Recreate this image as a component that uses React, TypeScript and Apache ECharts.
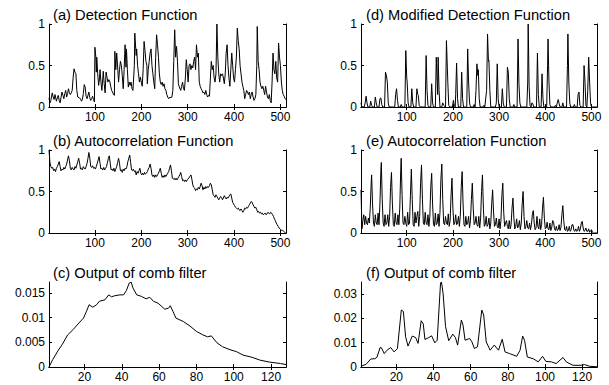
import React, { useEffect, useRef } from "react";
import * as echarts from "echarts";

const titles = [
  "(a) Detection Function",
  "(b) Autocorrelation Function",
  "(c) Output of comb filter",
  "(d) Modified Detection Function",
  "(e) Autocorrelation Function",
  "(f) Output of comb filter",
];

const lagTicks = [100, 200, 300, 400, 500];
const combTicks = [20, 40, 60, 80, 100, 120];
const unitTicks = [0, 0.5, 1];
const combTicksC = [0, 0.005, 0.01, 0.015];
const combTicksF = [0, 0.01, 0.02, 0.03];

const detectionFn: [number, number][] = [
  [1,0.11],[3,0.05],[5,0.08],[8,0.17],[10,0.12],[12,0.09],[14,0.15],[17,0.07],[19,0.11],[21,0.14],[23,0.08],[25,0.05],[27,0.12],[29,0.18],[31,0.14],[33,0.1],[35,0.16],[37,0.2],[39,0.12],[41,0.16],[43,0.22],[45,0.17],[47,0.15],[49,0.17],[51,0.2],[53,0.35],[55,0.46],[57,0.42],[59,0.4],[61,0.2],[63,0.12],[66,0.11],[69,0.1],[71,0.07],[73,0.09],[75,0.16],[77,0.27],[79,0.24],[81,0.13],[83,0.1],[85,0.14],[87,0.18],[89,0.11],[91,0.08],[93,0.1],[95,0.13],[97,0.09],[99,0.06],[100,0.72],[102,0.6],[103,0.42],[104,0.6],[106,0.4],[108,0.26],[110,0.35],[111,0.45],[113,0.3],[115,0.2],[117,0.35],[118,0.43],[120,0.28],[122,0.17],[124,0.42],[126,0.36],[128,0.3],[130,0.33],[132,0.31],[134,0.25],[136,0.2],[138,0.18],[140,0.15],[142,0.14],[143,0.67],[145,0.45],[147,0.65],[149,0.48],[151,0.3],[153,0.45],[155,0.55],[157,0.5],[159,0.38],[161,0.22],[163,0.45],[165,0.75],[167,0.48],[168,0.7],[170,0.45],[172,0.24],[174,0.3],[176,0.26],[178,0.3],[180,0.22],[182,0.2],[185,0.5],[186,0.89],[188,0.7],[189,0.62],[190,0.7],[192,0.5],[194,0.4],[196,0.3],[198,0.36],[200,0.3],[202,0.25],[204,0.45],[206,0.79],[208,0.68],[210,0.55],[212,0.5],[213,0.28],[215,0.45],[217,0.55],[219,0.65],[221,0.7],[223,0.5],[225,0.4],[227,0.3],[229,0.22],[231,0.6],[233,0.87],[235,0.75],[237,0.6],[239,0.4],[241,0.3],[243,0.27],[245,0.3],[247,0.25],[249,0.28],[251,0.22],[253,0.2],[255,0.15],[257,0.12],[259,0.1],[262,0.12],[264,0.11],[266,0.12],[268,0.2],[270,0.55],[272,0.93],[274,0.6],[276,0.73],[278,0.55],[280,0.28],[282,0.24],[285,0.2],[287,0.25],[289,0.3],[291,0.22],[293,0.2],[295,0.35],[297,0.57],[299,0.45],[301,0.3],[303,0.5],[305,0.52],[307,0.45],[309,0.5],[311,0.47],[313,0.55],[315,0.6],[317,0.45],[319,0.75],[321,0.6],[323,0.65],[325,0.3],[327,0.25],[329,0.22],[331,0.2],[333,0.17],[335,0.18],[337,0.15],[339,0.2],[341,0.15],[343,0.12],[345,0.14],[347,0.13],[349,0.35],[351,0.55],[353,0.45],[355,0.5],[357,0.35],[359,0.3],[361,0.4],[363,1.0],[365,0.6],[367,0.4],[369,0.3],[371,0.4],[373,0.38],[375,0.4],[377,0.35],[379,0.28],[381,0.4],[383,0.65],[385,0.75],[387,0.5],[389,0.35],[391,0.25],[393,0.45],[395,0.65],[397,0.5],[399,0.35],[401,0.3],[403,0.45],[405,0.6],[407,0.95],[409,0.8],[411,0.7],[413,0.5],[415,0.4],[417,0.3],[419,0.25],[421,0.2],[423,0.1],[425,0.15],[427,0.2],[429,0.18],[431,0.15],[433,0.18],[435,0.1],[437,0.15],[439,0.18],[441,0.12],[443,0.08],[445,0.1],[447,0.15],[449,0.5],[450,0.97],[452,0.55],[454,0.45],[456,0.3],[458,0.25],[460,0.22],[462,0.25],[464,0.2],[466,0.15],[468,0.25],[470,0.18],[472,0.12],[474,0.1],[476,0.15],[478,0.08],[480,0.05],[482,0.3],[484,0.65],[486,0.45],[488,0.4],[490,0.55],[492,0.35],[494,0.3],[496,0.77],[498,0.6],[500,0.5],[502,0.3],[504,0.2],[506,0.15],[508,0.13],[510,0.1],[512,0.09],
];

const autocorr: [number, number][] = [
  [1,1.0],[3,0.85],[5,0.8],[7,0.78],[9,0.79],[11,0.75],[13,0.77],[15,0.74],[17,0.78],[19,0.8],[21,0.83],[23,0.86],[25,0.8],[27,0.75],[29,0.77],[31,0.76],[33,0.79],[35,0.77],[37,0.8],[39,0.83],[41,0.88],[43,0.93],[45,0.87],[47,0.78],[49,0.76],[51,0.79],[53,0.77],[55,0.76],[57,0.8],[59,0.78],[61,0.82],[63,0.86],[65,0.9],[67,0.84],[69,0.77],[71,0.78],[73,0.76],[75,0.8],[77,0.78],[79,0.77],[81,0.8],[83,0.84],[85,0.9],[87,0.97],[89,0.9],[91,0.8],[93,0.79],[95,0.81],[97,0.78],[99,0.79],[101,0.77],[103,0.8],[105,0.84],[107,0.88],[109,0.92],[111,0.84],[113,0.77],[115,0.78],[117,0.76],[119,0.79],[121,0.76],[123,0.78],[125,0.8],[127,0.85],[129,0.9],[131,0.93],[133,0.84],[135,0.76],[137,0.77],[139,0.75],[141,0.78],[143,0.74],[145,0.77],[147,0.8],[149,0.85],[151,0.9],[153,0.84],[155,0.75],[157,0.76],[159,0.73],[161,0.77],[163,0.75],[165,0.78],[167,0.77],[169,0.8],[171,0.86],[173,0.9],[175,0.94],[177,0.85],[179,0.76],[181,0.75],[183,0.77],[185,0.74],[187,0.75],[189,0.7],[191,0.74],[193,0.72],[195,0.75],[197,0.78],[199,0.72],[201,0.7],[203,0.72],[205,0.7],[207,0.73],[209,0.71],[211,0.72],[213,0.74],[215,0.77],[217,0.79],[219,0.83],[221,0.78],[223,0.7],[225,0.68],[227,0.7],[229,0.67],[231,0.7],[233,0.68],[235,0.7],[237,0.72],[239,0.75],[241,0.78],[243,0.72],[245,0.67],[247,0.69],[249,0.67],[251,0.7],[253,0.68],[255,0.7],[257,0.72],[259,0.74],[261,0.78],[263,0.82],[265,0.75],[267,0.66],[269,0.65],[271,0.66],[273,0.64],[275,0.66],[277,0.64],[279,0.66],[281,0.68],[283,0.7],[285,0.73],[287,0.68],[289,0.63],[291,0.64],[293,0.62],[295,0.64],[297,0.62],[299,0.64],[301,0.65],[303,0.67],[305,0.68],[307,0.7],[309,0.65],[311,0.58],[313,0.55],[315,0.54],[317,0.51],[319,0.53],[321,0.52],[323,0.55],[325,0.53],[327,0.56],[329,0.6],[331,0.57],[333,0.52],[335,0.55],[337,0.53],[339,0.56],[341,0.54],[343,0.56],[345,0.55],[347,0.57],[349,0.6],[351,0.58],[353,0.52],[355,0.46],[357,0.45],[359,0.43],[361,0.46],[363,0.44],[365,0.42],[367,0.4],[369,0.42],[371,0.44],[373,0.43],[375,0.4],[377,0.42],[379,0.45],[381,0.43],[383,0.41],[385,0.43],[387,0.42],[389,0.44],[391,0.46],[393,0.47],[395,0.42],[397,0.37],[399,0.35],[401,0.33],[403,0.31],[405,0.3],[407,0.29],[409,0.3],[411,0.28],[413,0.27],[415,0.29],[417,0.27],[419,0.25],[421,0.27],[423,0.3],[425,0.29],[427,0.31],[429,0.3],[431,0.32],[433,0.34],[435,0.36],[437,0.38],[439,0.37],[441,0.34],[443,0.32],[445,0.3],[447,0.31],[449,0.28],[451,0.25],[453,0.26],[455,0.24],[457,0.25],[459,0.23],[461,0.24],[463,0.22],[465,0.23],[467,0.24],[469,0.22],[471,0.23],[473,0.25],[475,0.24],[477,0.23],[479,0.25],[481,0.24],[483,0.22],[485,0.2],[487,0.17],[489,0.15],[491,0.12],[493,0.1],[495,0.08],[497,0.06],[499,0.05],[501,0.04],[503,0.03],[505,0.03],[507,0.02],[509,0.01],[511,0.005],[512,0.0],
];

const combOut: [number, number][] = [
  [1,0],[3,0.0015],[6,0.0034],[8,0.0045],[11,0.0065],[14,0.0076],[17,0.0089],[19.5,0.0099],[21,0.0112],[22.5,0.0126],[24.5,0.0121],[26.5,0.0126],[28,0.0133],[31,0.0136],[33,0.0146],[34.5,0.0142],[36,0.0144],[39,0.0146],[41,0.0146],[42.5,0.0155],[44,0.017],[45,0.0172],[46,0.016],[48,0.0146],[50.5,0.0143],[53,0.0138],[55,0.0141],[57,0.0133],[59.5,0.0129],[63,0.0117],[65,0.0119],[66,0.0124],[67.5,0.0112],[69,0.0099],[73,0.0092],[76.5,0.0083],[80,0.0072],[83.5,0.0065],[86,0.0061],[88,0.0063],[91,0.0049],[94,0.0041],[98,0.0035],[101.5,0.0031],[105,0.0024],[109.5,0.002],[114,0.0014],[119,0.001],[125,0.0007],[128,0.0005],
];

const modDetectionFn: [number, number][] = [
  [1,0.05],[2,0.02],[4,0],[8,0],[10,0.05],[12,0.13],[14,0.05],[16,0],[20,0],[22,0.07],[24,0.02],[26,0],[30,0],[32,0.12],[34,0.05],[36,0],[40,0],[42,0.1],[44,0.11],[46,0.03],[48,0],[52,0],[54,0.42],[56,0.38],[58,0.3],[60,0.05],[62,0],[74,0],[76,0.15],[78,0.22],[80,0.08],[82,0],[86,0],[88,0.03],[90,0],[96,0],[98,0.68],[100,0.35],[101,0.3],[103,0.05],[105,0],[109,0],[111,0.22],[113,0.05],[115,0],[120,0],[122,0.22],[124,0.15],[125,0.14],[127,0.02],[129,0],[140,0],[142,0.62],[144,0.2],[146,0.02],[148,0],[152,0],[154,0.28],[156,0.05],[158,0],[162,0],[164,0.6],[166,0.3],[167,0.15],[168,0.6],[170,0.2],[172,0],[176,0],[178,0.05],[180,0.02],[184,0],[186,0.8],[188,0.46],[189,0.3],[191,0.02],[193,0],[199,0],[201,0.08],[203,0.02],[205,0],[206,0.15],[208,0.53],[210,0.1],[212,0],[217,0],[219,0.42],[221,0.1],[223,0],[230,0],[232,0.7],[234,0.3],[236,0.05],[238,0],[244,0],[246,0.03],[248,0],[250,0.2],[252,0.52],[254,0.38],[255,0.45],[257,0.1],[259,0],[265,0],[267,0.02],[269,0],[273,0.2],[275,0.88],[277,0.55],[278,0.56],[280,0.2],[282,0],[292,0],[294,0.05],[296,0.52],[298,0.1],[300,0],[305,0],[307,0.22],[309,0.05],[311,0],[316,0],[318,0.48],[320,0.42],[322,0.1],[324,0],[330,0],[332,0.03],[334,0],[339,0],[341,0.82],[343,0.28],[345,0.05],[347,0],[360,0],[362,0.3],[363,1.0],[365,0.25],[367,0.02],[369,0],[371,0.05],[373,0.04],[375,0],[381,0],[383,0.65],[385,0.15],[387,0],[391,0],[393,0.4],[395,0.1],[397,0],[403,0],[405,0.5],[406,0.82],[408,0.3],[410,0.03],[412,0],[420,0],[422,0.02],[424,0],[426,0.05],[428,0.09],[430,0.04],[432,0],[436,0],[438,0.05],[440,0],[446,0],[448,0.5],[449,0.88],[451,0.3],[453,0.05],[455,0],[461,0],[463,0.03],[465,0],[469,0],[471,0.15],[473,0.18],[475,0.02],[477,0],[482,0],[484,0.5],[486,0.3],[488,0.02],[490,0],[492,0.2],[494,0.6],[496,0.3],[498,0.05],[500,0],[512,0],
];

const modAutocorr: [number, number][] = [
  [1,0.52],[3,0.05],[5,0.15],[7,0.22],[9,0.1],[11,0.2],[13,0.12],[15,0.1],[17,0.18],[19,0.12],[21,0.3],[23,0.6],[24,0.7],[26,0.35],[28,0.12],[30,0.08],[32,0.22],[34,0.12],[36,0.1],[38,0.24],[40,0.1],[42,0.35],[44,0.75],[45,0.85],[47,0.4],[49,0.12],[51,0.08],[53,0.22],[55,0.1],[57,0.12],[59,0.22],[61,0.08],[63,0.2],[65,0.55],[67,0.73],[69,0.35],[71,0.1],[73,0.08],[75,0.24],[77,0.12],[79,0.1],[81,0.22],[83,0.1],[85,0.3],[87,0.75],[88,0.9],[90,0.45],[92,0.12],[94,0.1],[96,0.2],[98,0.12],[100,0.08],[102,0.25],[104,0.1],[106,0.12],[108,0.45],[110,0.77],[112,0.4],[114,0.1],[116,0.08],[118,0.25],[120,0.12],[122,0.2],[124,0.26],[126,0.08],[128,0.2],[130,0.6],[132,0.82],[134,0.4],[136,0.12],[138,0.1],[140,0.25],[142,0.12],[144,0.1],[146,0.22],[148,0.08],[150,0.2],[152,0.55],[154,0.72],[156,0.35],[158,0.1],[160,0.08],[162,0.24],[164,0.1],[166,0.12],[168,0.23],[170,0.08],[172,0.25],[174,0.65],[176,0.83],[178,0.4],[180,0.12],[182,0.1],[184,0.2],[186,0.12],[188,0.1],[190,0.23],[192,0.08],[194,0.15],[196,0.45],[198,0.66],[200,0.3],[202,0.1],[204,0.12],[206,0.22],[208,0.1],[210,0.12],[212,0.2],[214,0.08],[216,0.2],[218,0.55],[220,0.74],[222,0.35],[224,0.1],[226,0.08],[228,0.2],[230,0.1],[232,0.12],[234,0.2],[236,0.06],[238,0.15],[240,0.4],[242,0.6],[244,0.3],[246,0.1],[248,0.12],[250,0.2],[252,0.1],[254,0.08],[256,0.2],[258,0.06],[260,0.18],[262,0.5],[264,0.7],[266,0.3],[268,0.08],[270,0.1],[272,0.2],[274,0.08],[276,0.1],[278,0.18],[280,0.05],[282,0.12],[284,0.35],[286,0.52],[288,0.25],[290,0.08],[292,0.1],[294,0.18],[296,0.08],[298,0.06],[300,0.17],[302,0.05],[304,0.15],[306,0.45],[308,0.6],[310,0.25],[312,0.08],[314,0.12],[316,0.15],[318,0.08],[320,0.05],[322,0.15],[324,0.05],[326,0.1],[328,0.3],[330,0.42],[332,0.18],[334,0.05],[336,0.08],[338,0.17],[340,0.06],[342,0.08],[344,0.15],[346,0.04],[348,0.12],[350,0.35],[352,0.5],[354,0.2],[356,0.05],[358,0.08],[360,0.15],[362,0.06],[364,0.05],[366,0.12],[368,0.04],[370,0.1],[372,0.22],[374,0.27],[376,0.12],[378,0.04],[380,0.06],[382,0.2],[384,0.08],[386,0.05],[388,0.17],[390,0.04],[392,0.1],[394,0.3],[396,0.43],[398,0.18],[400,0.05],[402,0.06],[404,0.13],[406,0.05],[408,0.04],[410,0.12],[412,0.03],[414,0.07],[416,0.15],[418,0.13],[420,0.05],[422,0.03],[424,0.08],[426,0.03],[428,0.04],[430,0.1],[432,0.03],[434,0.07],[436,0.22],[438,0.33],[440,0.15],[442,0.04],[444,0.03],[446,0.08],[448,0.02],[450,0.03],[452,0.08],[454,0.02],[456,0.04],[458,0.1],[460,0.1],[462,0.03],[464,0.02],[466,0.05],[468,0.02],[470,0.03],[472,0.08],[474,0.02],[476,0.05],[478,0.12],[480,0.14],[482,0.06],[484,0.02],[486,0.03],[488,0.06],[490,0.02],[492,0.02],[494,0.05],[496,0.01],[498,0.02],[500,0.04],[502,0.01],[504,0.0],[512,0.0],
];

const modCombOut: [number, number][] = [
  [1,0.0003],[3.7,0.0011],[6.3,0.0033],[8.5,0.0034],[9.6,0.004],[11.3,0.008],[12,0.0079],[13.5,0.0055],[15,0.0069],[17,0.008],[18.8,0.0062],[20.6,0.0076],[22.7,0.0234],[23.8,0.0228],[25,0.0124],[26.3,0.0086],[28.6,0.0127],[30.4,0.0121],[31.7,0.0097],[33.4,0.019],[34.5,0.0177],[35.4,0.0113],[37.5,0.0121],[39,0.0128],[40.7,0.0099],[42,0.011],[43.8,0.0345],[44.3,0.0349],[45.2,0.03],[46.5,0.0166],[48.2,0.0108],[50.4,0.0135],[51.8,0.0121],[53,0.009],[55,0.0193],[55.9,0.0172],[57,0.011],[59.5,0.0117],[60.7,0.0103],[62,0.0076],[63.7,0.0083],[66,0.0234],[67,0.0214],[68.4,0.0103],[70.5,0.0069],[72.7,0.009],[75,0.0069],[77,0.0114],[78.5,0.0062],[81,0.0055],[84.8,0.0044],[86.6,0.0069],[88,0.0127],[89,0.011],[90.5,0.0041],[93.7,0.0034],[96.4,0.0021],[98.7,0.0044],[100.5,0.0023],[103.5,0.0021],[106,0.0014],[109.7,0.0039],[111.5,0.0021],[115,0.0007],[119.5,0.0007],[121.3,0.001],[124,0.0003],[128,0.0001],
];

const FONT = "'Liberation Sans', Arial, Helvetica, sans-serif";

type Panel = {
  title: string;
  data: [number, number][];
  left: number;
  top: number;
  width: number;
  height: number;
  xMin: number;
  xMax: number;
  xTicks: number[];
  yMax: number;
  yTicks: number[];
};

const panels: Panel[] = [
  { title: titles[0], data: detectionFn, left: 49, top: 24, width: 237, height: 83, xMin: 1, xMax: 512, xTicks: lagTicks, yMax: 1, yTicks: unitTicks },
  { title: titles[1], data: autocorr, left: 49, top: 150, width: 237, height: 83, xMin: 1, xMax: 512, xTicks: lagTicks, yMax: 1, yTicks: unitTicks },
  { title: titles[2], data: combOut, left: 49, top: 282, width: 237, height: 85, xMin: 1, xMax: 128, xTicks: combTicks, yMax: 0.0172, yTicks: combTicksC },
  { title: titles[3], data: modDetectionFn, left: 361, top: 24, width: 236, height: 83, xMin: 1, xMax: 512, xTicks: lagTicks, yMax: 1, yTicks: unitTicks },
  { title: titles[4], data: modAutocorr, left: 361, top: 150, width: 236, height: 83, xMin: 1, xMax: 512, xTicks: lagTicks, yMax: 1, yTicks: unitTicks },
  { title: titles[5], data: modCombOut, left: 361, top: 282, width: 236, height: 85, xMin: 1, xMax: 128, xTicks: combTicks, yMax: 0.0349, yTicks: combTicksF },
];

const fmt = (v: number) => String(+Number(v).toFixed(4));

export default function App() {
  const ref = useRef<HTMLDivElement>(null);
  useEffect(() => {
    if (!ref.current) return;
    const chart = echarts.init(ref.current, undefined, { renderer: "svg" });
    const line = { show: true, lineStyle: { color: "#000", width: 1 } };
    const grid: any[] = [];
    const xAxis: any[] = [];
    const yAxis: any[] = [];
    const series: any[] = [];
    const title: any[] = [];
    panels.forEach((p, i) => {
      grid.push({ left: p.left, top: p.top, width: p.width, height: p.height, containLabel: false, outerBoundsMode: "none" });
      title.push({
        text: p.title,
        left: p.left + (p.left < 100 ? 4 : 5),
        top: p.top - 17,
        padding: 0,
        textStyle: { fontFamily: FONT, fontSize: 14.7, fontWeight: "normal", color: "#000" },
      });
      xAxis.push({
        type: "value", gridIndex: i, position: "bottom", min: p.xMin, max: p.xMax,
        axisLine: line, splitLine: { show: false },
        axisTick: { show: true, inside: true, length: 3, customValues: p.xTicks, lineStyle: { color: "#000" } },
        axisLabel: { customValues: p.xTicks, color: "#000", fontFamily: FONT, fontSize: 12, margin: 4, formatter: fmt },
      });
      xAxis.push({
        type: "value", gridIndex: i, position: "top", min: p.xMin, max: p.xMax,
        axisLine: line, splitLine: { show: false },
        axisTick: { show: true, inside: true, length: 3, customValues: p.xTicks, lineStyle: { color: "#000" } },
        axisLabel: { show: false },
      });
      yAxis.push({
        type: "value", gridIndex: i, position: "left", min: 0, max: p.yMax,
        axisLine: line, splitLine: { show: false },
        axisTick: { show: true, inside: true, length: 3, customValues: p.yTicks, lineStyle: { color: "#000" } },
        axisLabel: { customValues: p.yTicks, color: "#000", fontFamily: FONT, fontSize: 12, margin: 4, formatter: fmt },
      });
      yAxis.push({
        type: "value", gridIndex: i, position: "right", min: 0, max: p.yMax,
        axisLine: line, splitLine: { show: false },
        axisTick: { show: true, inside: true, length: 3, customValues: p.yTicks, lineStyle: { color: "#000" } },
        axisLabel: { show: false },
      });
      series.push({
        type: "line", xAxisIndex: 2 * i, yAxisIndex: 2 * i, data: p.data,
        showSymbol: false, symbol: "none", clip: true,
        lineStyle: { color: "#000", width: 1 },
      });
    });
    chart.setOption({
      animation: false,
      backgroundColor: "#fff",
      title, grid, xAxis, yAxis, series,
    });
    return () => chart.dispose();
  }, []);
  return (
    <div
      ref={ref}
      style={{ position: "fixed", left: 0, top: 0, width: 609, height: 385, background: "#fff" }}
    />
  );
}
